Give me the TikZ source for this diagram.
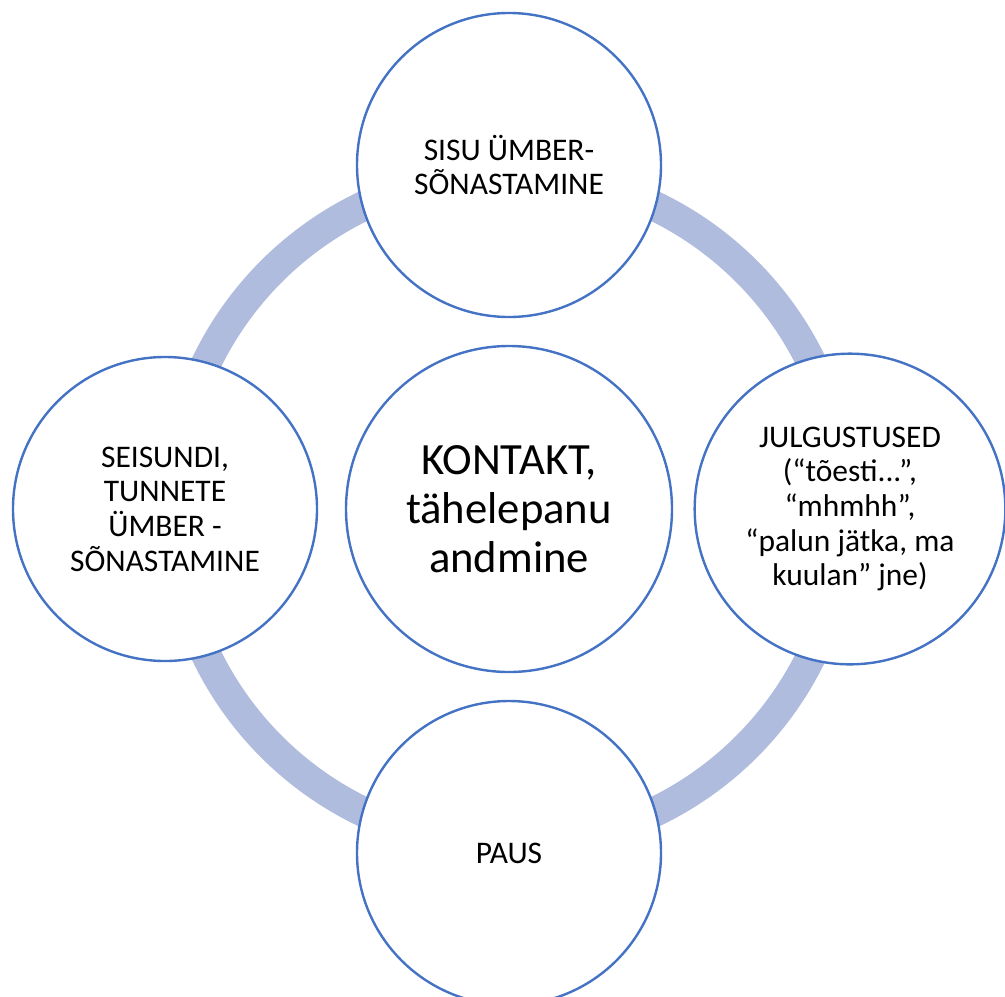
\documentclass[tikz,border=0pt]{standalone}
\usepackage{fontspec}
\setmainfont{Carlito}
\usetikzlibrary{positioning}
\definecolor{ringcol}{HTML}{AFBCDE}
\definecolor{edgecol}{HTML}{4472C4}

\begin{document}
\begin{tikzpicture}[x=0.75pt, y=-0.75pt]
 \tikzstyle{stepcircle}=[circle,draw=edgecol,line width=1.8pt,fill=white,minimum size=228pt,inner sep=0pt,align=center,font=\fontsize{23.6}{26}\selectfont]
 \tikzstyle{hubcircle}=[circle,draw=edgecol,line width=1.8pt,fill=white,minimum size=244.5pt,inner sep=0pt,align=center,font=\fontsize{33.5}{37}\selectfont]
 \useasboundingbox (0,0) rectangle (1005,996);
 % ring behind the circles
 \draw[ringcol,line width=22.5pt] (509,509) circle[radius=336];
 \node[hubcircle] (kontakt) at (509,509) {KONTAKT,\\tähelepanu\\andmine};
 \node[stepcircle] (sisu) at (509,165) {SISU ÜMBER-\\SÕNASTAMINE};
 \node[stepcircle,minimum size=233pt] (julgus) at (850,509) {JULGUSTUSED\\(“tõesti...”,\\“mhmhh”,\\“palun jätka, ma\\kuulan” jne)};
 \node[stepcircle] (paus) at (509,853) {PAUS};
 \node[stepcircle] (seisund) at (165,509) {SEISUNDI,\\TUNNETE\\ÜMBER -\\SÕNASTAMINE};
\end{tikzpicture}
\end{document}
